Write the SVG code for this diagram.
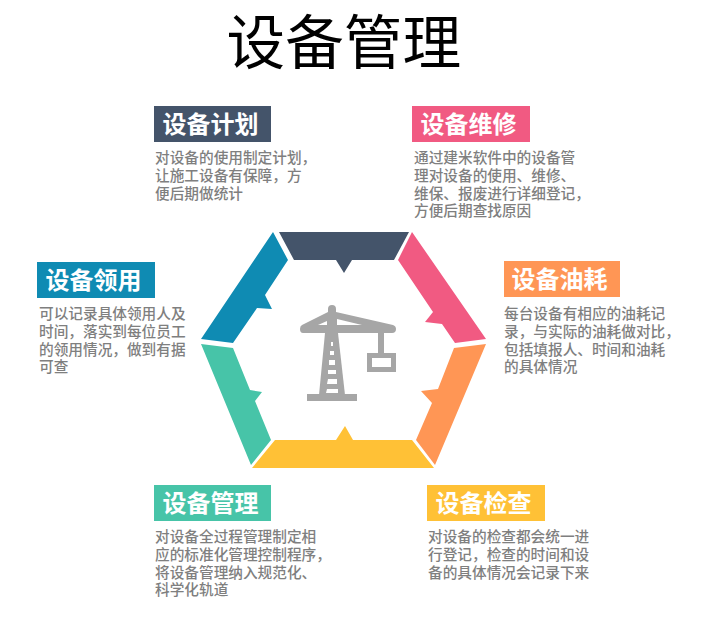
<svg xmlns="http://www.w3.org/2000/svg" width="709" height="632" viewBox="0 0 709 632">
<style>
text{font-family:"Noto Sans CJK SC","Noto Sans",sans-serif}
.t{font-size:58.670px;fill:#000}
.h{font-size:24px;font-weight:700;fill:#fff;text-anchor:middle}
.b{font-size:14.670px;font-weight:500;fill:#7f7f7f}
.c{fill:#a6a6a6}
.w{fill:#fff}
</style>
<rect width="709" height="632" fill="#fff"/>
<text class="t" x="226.500" y="64">设备管理</text>
<g id="ring">
<polygon fill="#44546a" points="279,232 409,232 394,260 352,260 344,273 336,260 294,260"/>
<polygon fill="#f15a82" points="412,232 486,339 455,343 442,324 425,322 433,312 398,260"/>
<polygon fill="#ff9655" points="486,344 435,465 416,440 432,403 421,391 438,389 454,348"/>
<polygon fill="#ffc136" points="252,468 434,468 412,440 353,440 345,426 336,440 275,440"/>
<polygon fill="#47c4a8" points="201,344 233,348 250,390 262,392 255,401 271,440 251,465"/>
<polygon fill="#0f8bb3" points="273,232 288,260 265,295 272,309 257,308 233,343 201,339"/>
</g>
<g id="crane">
<rect class="c" x="307" y="394" width="50" height="7"/>
<polygon class="c" points="325,333 338,333 345,395 319,395"/>
<path class="c" d="M302,325 L328,312 L328,309 Q328,305 332,305 Q336,305 336,309 L336,312 L393,325 Q396,326 396,329 Q396,333 392,333 L303,333 Q300,333 300,329 Q300,326 302,325Z"/>
<polygon class="w" points="318,325 327,321 327,325"/>
<polygon class="w" points="337,319 337,325 362,325"/>
<polygon class="w" points="331,342 333,342 333,346 331,346"/>
<polygon class="w" points="330,351 334,351 334,355 330,355"/>
<polygon class="w" points="329,360 335,360 335,365 329,365"/>
<polygon class="w" points="328,370 336,370 336,374 328,374"/>
<polygon class="w" points="328,379 337,379 337,384 327,384"/>
<polygon class="w" points="327,389 338,389 338,393 326,393"/>
<rect class="c" x="378" y="333" width="6" height="20"/>
<path class="c" fill-rule="evenodd" d="M367,353H396V372H367ZM372,358V367H391V358Z"/>
</g>
<g id="node-plan">
<rect fill="#44546a" x="154" y="106" width="117" height="36"/>
<text class="h" x="210.500" y="133">设备计划</text>
<text class="b"><tspan x="155" y="163">对设备的使用制定计划，</tspan><tspan x="155" y="181">让施工设备有保障，方</tspan><tspan x="155" y="199">便后期做统计</tspan></text>
</g>
<g id="node-repair">
<rect fill="#f15a82" x="412" y="106" width="118" height="36"/>
<text class="h" x="468.500" y="133">设备维修</text>
<text class="b"><tspan x="414" y="163">通过建米软件中的设备管</tspan><tspan x="414" y="181">理对设备的使用、维修、</tspan><tspan x="414" y="199">维保、报废进行详细登记，</tspan><tspan x="414" y="216">方便后期查找原因</tspan></text>
</g>
<g id="node-fuel">
<rect fill="#ff9655" x="504" y="261" width="116" height="36"/>
<text class="h" x="559.500" y="288">设备油耗</text>
<text class="b"><tspan x="504" y="319">每台设备有相应的油耗记</tspan><tspan x="504" y="337">录，与实际的油耗做对比，</tspan><tspan x="504" y="355">包括填报人、时间和油耗</tspan><tspan x="504" y="372">的具体情况</tspan></text>
</g>
<g id="node-use">
<rect fill="#0f8bb3" x="37" y="262" width="118" height="36"/>
<text class="h" x="93.500" y="289">设备领用</text>
<text class="b"><tspan x="39" y="319">可以记录具体领用人及</tspan><tspan x="39" y="337">时间，落实到每位员工</tspan><tspan x="39" y="355">的领用情况，做到有据</tspan><tspan x="39" y="372">可查</tspan></text>
</g>
<g id="node-manage">
<rect fill="#47c4a8" x="154" y="485" width="117" height="36"/>
<text class="h" x="210.500" y="512">设备管理</text>
<text class="b"><tspan x="155" y="542">对设备全过程管理制定相</tspan><tspan x="155" y="560">应的标准化管理控制程序，</tspan><tspan x="155" y="578">将设备管理纳入规范化、</tspan><tspan x="155" y="595">科学化轨道</tspan></text>
</g>
<g id="node-check">
<rect fill="#ffc136" x="427" y="485" width="118" height="36"/>
<text class="h" x="483.500" y="512">设备检查</text>
<text class="b"><tspan x="428" y="542">对设备的检查都会统一进</tspan><tspan x="428" y="560">行登记，检查的时间和设</tspan><tspan x="428" y="578">备的具体情况会记录下来</tspan></text>
</g>
<g id="connectors"></g>
</svg>
